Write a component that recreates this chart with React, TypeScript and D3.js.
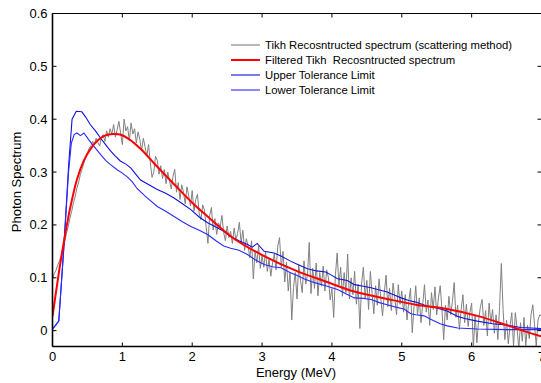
import React from "react";
import * as d3 from "d3";

// ---- data ----
const xTicks = [0, 1, 2, 3, 4, 5, 6, 7];
const yTicks = [0, 0.1, 0.2, 0.3, 0.4, 0.5, 0.6];
const yTickLabels = ["0", "0.1", "0.2", "0.3", "0.4", "0.5", "0.6"];

const legendLabels = [
  "Tikh Recosntructed spectrum (scattering method)",
  "Filtered Tikh  Recosntructed spectrum",
  "Upper Tolerance Limit",
  "Lower Tolerance Limit",
];

// noisy reconstructed spectrum, sampled every 0.025 MeV from 0 to 7
const grayStep = 0.025;
const grayValues = [
  0.098, 0.108, 0.114, 0.124, 0.132, 0.142, 0.156, 0.168, 0.184, 0.197, 0.213, 0.226, 0.242, 0.254, 0.270, 0.281, 0.296, 0.306, 0.318, 0.327,
  0.336, 0.345, 0.350, 0.358, 0.352, 0.364, 0.356, 0.349, 0.366, 0.371, 0.358, 0.378, 0.366, 0.382, 0.372, 0.390, 0.366, 0.380, 0.396, 0.374,
  0.352, 0.400, 0.378, 0.386, 0.360, 0.393, 0.372, 0.382, 0.355, 0.376, 0.362, 0.340, 0.364, 0.348, 0.330, 0.352, 0.318, 0.290, 0.300, 0.330,
  0.322, 0.296, 0.312, 0.288, 0.305, 0.278, 0.300, 0.284, 0.268, 0.292, 0.305, 0.262, 0.280, 0.248, 0.276, 0.262, 0.240, 0.272, 0.255, 0.236,
  0.265, 0.226, 0.248, 0.258, 0.222, 0.210, 0.238, 0.228, 0.196, 0.165, 0.218, 0.233, 0.190, 0.212, 0.182, 0.204, 0.196, 0.218, 0.186, 0.170,
  0.198, 0.176, 0.188, 0.165, 0.194, 0.172, 0.184, 0.205, 0.166, 0.190, 0.152, 0.174, 0.160, 0.138, 0.170, 0.098, 0.150, 0.128, 0.160, 0.118,
  0.142, 0.120, 0.150, 0.112, 0.135, 0.103, 0.128, 0.145, 0.115, 0.160, 0.176, 0.120, 0.150, 0.092, 0.130, 0.075, 0.110, 0.020, 0.082, 0.110,
  0.060, 0.125, 0.095, 0.072, 0.132, 0.088, 0.105, 0.167, 0.070, 0.118, 0.080, 0.128, 0.066, 0.110, 0.084, 0.122, 0.075, 0.115, 0.100, 0.058,
  0.080, 0.025, 0.105, 0.147, 0.085, 0.120, 0.065, 0.110, 0.072, 0.145, 0.060, 0.100, 0.068, 0.112, 0.050, 0.088, 0.004, 0.090, 0.120, 0.062,
  0.095, 0.040, 0.112, 0.070, 0.032, 0.085, 0.048, 0.098, 0.060, 0.028, 0.072, 0.105, 0.045, 0.080, 0.038, 0.090, 0.062, 0.030, 0.087, 0.050,
  0.075, 0.035, 0.068, 0.020, 0.055, 0.080, -0.004, 0.045, 0.085, 0.030, 0.062, 0.015, 0.050, 0.087, 0.035, 0.058, 0.010, 0.072, 0.040, 0.083,
  0.030, 0.062, 0.085, 0.040, -0.017, 0.048, 0.020, 0.065, 0.030, 0.055, 0.091, 0.025, 0.048, 0.002, 0.040, 0.068, 0.015, 0.050, 0.008, 0.035,
  0.052, -0.032, 0.030, -0.023, 0.020, 0.045, 0.059, 0.010, 0.038, -0.010, 0.052, 0.015, 0.040, -0.005, 0.030, -0.017, 0.046, 0.127, 0.040, -0.017,
  0.020, -0.025, 0.010, 0.034, -0.030, 0.034, 0.005, -0.035, 0.015, -0.020, 0.025, -0.028, 0.010, -0.015, 0.030, 0.049, 0.012, -0.030, 0.020, 0.030,
  0.028,
];

// filtered spectrum
const redEnergy = [0, 0.08, 0.16, 0.25, 0.35, 0.45, 0.54, 0.65, 0.75, 0.87, 0.97, 1.1, 1.26, 1.5, 1.74, 2.0, 2.22, 2.5, 2.62, 3.03, 3.51, 3.91, 4.32, 4.79, 5.2, 5.61, 6.08, 6.49, 6.75, 7.0];
const redValues = [0.027, 0.1, 0.166, 0.23, 0.286, 0.322, 0.343, 0.36, 0.369, 0.372, 0.371, 0.362, 0.344, 0.31, 0.277, 0.242, 0.216, 0.184, 0.172, 0.141, 0.112, 0.093, 0.074, 0.06, 0.049, 0.042, 0.028, 0.011, -0.001, -0.011];

// upper tolerance limit
const upperEnergy = [0, 0.09, 0.16, 0.23, 0.28, 0.34, 0.42, 0.47, 0.54, 0.62, 0.69, 0.76, 0.83, 0.9, 0.97, 1.05, 1.12, 1.18, 1.26, 1.38, 1.5, 1.62, 1.74, 1.86, 1.98, 2.1, 2.22, 2.34, 2.45, 2.55, 2.67, 2.79, 2.86, 2.93, 3.03, 3.17, 3.27, 3.4, 3.51, 3.65, 3.78, 3.91, 3.98, 4.08, 4.22, 4.32, 4.45, 4.56, 4.68, 4.79, 4.9, 4.99, 5.1, 5.2, 5.37, 5.5, 5.65, 5.8, 5.9, 6.08, 6.3, 6.49, 6.7, 7.0];
const upperValues = [0.003, 0.018, 0.153, 0.311, 0.4, 0.415, 0.414, 0.405, 0.39, 0.377, 0.364, 0.352, 0.34, 0.33, 0.321, 0.315, 0.308, 0.298, 0.285, 0.276, 0.267, 0.26, 0.251, 0.24, 0.229, 0.215, 0.204, 0.196, 0.188, 0.178, 0.17, 0.163, 0.158, 0.165, 0.15, 0.147, 0.141, 0.132, 0.125, 0.117, 0.113, 0.111, 0.106, 0.098, 0.095, 0.087, 0.084, 0.081, 0.077, 0.073, 0.067, 0.062, 0.057, 0.054, 0.046, 0.043, 0.037, 0.027, 0.023, 0.018, 0.013, 0.011, 0.006, 0.004];

// lower tolerance limit
const lowerEnergy = [0, 0.09, 0.16, 0.23, 0.27, 0.31, 0.35, 0.4, 0.45, 0.52, 0.59, 0.69, 0.76, 0.83, 0.93, 1.0, 1.07, 1.14, 1.21, 1.33, 1.5, 1.62, 1.74, 1.86, 1.98, 2.1, 2.22, 2.34, 2.45, 2.55, 2.67, 2.79, 2.9, 3.03, 3.15, 3.27, 3.4, 3.51, 3.6, 3.7, 3.8, 3.91, 4.08, 4.2, 4.32, 4.45, 4.56, 4.68, 4.79, 4.9, 5.03, 5.13, 5.2, 5.32, 5.42, 5.55, 5.65, 5.8, 6.08, 6.5, 7.0];
const lowerValues = [0.003, 0.018, 0.153, 0.3, 0.355, 0.371, 0.374, 0.369, 0.374, 0.361, 0.349, 0.333, 0.322, 0.314, 0.304, 0.298, 0.291, 0.282, 0.269, 0.254, 0.235, 0.226, 0.216, 0.206, 0.197, 0.19, 0.182, 0.17, 0.16, 0.156, 0.152, 0.144, 0.134, 0.125, 0.121, 0.119, 0.11, 0.104, 0.098, 0.093, 0.089, 0.085, 0.078, 0.07, 0.062, 0.061, 0.059, 0.053, 0.049, 0.045, 0.041, 0.032, 0.03, 0.028, 0.021, 0.013, 0.009, 0.005, 0.003, 0.002, 0.002];

const GRAY = "#808080";
const RED = "#ff0000";
const UPPER = "#1010dc";
const LOWER = "#2a2aff";
const legendColors = [GRAY, RED, UPPER, LOWER];

const FONT = "Liberation Sans, Arial, Helvetica, sans-serif";

export default function App() {
  const W = 541;
  const H = 383;
  const left = 52.5;
  const right = 541.5;
  const top = 13.5;
  const bottom = 346.5;

  const x = d3.scaleLinear().domain([0, 7]).range([left, right]);
  const y = d3.scaleLinear().domain([-0.03, 0.6]).range([bottom, top]);

  type P = [number, number];
  const line = d3
    .line<P>()
    .x((d) => x(d[0]))
    .y((d) => y(d[1]));
  const smooth = d3
    .line<P>()
    .x((d) => x(d[0]))
    .y((d) => y(d[1]))
    .curve(d3.curveCatmullRom.alpha(0.5));

  const grayPts: P[] = grayValues.map((v, i) => [i * grayStep, v]);
  const redPts: P[] = redEnergy.map((e, i) => [e, redValues[i]]);
  const upPts: P[] = upperEnergy.map((e, i) => [e, upperValues[i]]);
  const loPts: P[] = lowerEnergy.map((e, i) => [e, lowerValues[i]]);

  const tickLen = 4;

  return (
    <svg
      width={W}
      height={H}
      style={{ position: "absolute", left: 0, top: 0, background: "#fff" }}
      fontFamily={FONT}
    >
      <defs>
        <clipPath id="plotClip">
          <rect x={left} y={top} width={right - left} height={bottom - top} />
        </clipPath>
      </defs>
      <rect x={0} y={0} width={W} height={H} fill="#fff" />

      <g clipPath="url(#plotClip)" fill="none">
        <path d={line(grayPts) || ""} stroke={GRAY} strokeWidth={1} />
        <path d={line(upPts) || ""} stroke={UPPER} strokeWidth={1.1} />
        <path d={line(loPts) || ""} stroke={LOWER} strokeWidth={1.1} />
        <path d={smooth(redPts) || ""} stroke={RED} strokeWidth={2} />
      </g>

      {/* box */}
      <g stroke="#000" fill="none">
        <line x1={left} y1={top} x2={left} y2={bottom} strokeWidth={1.6} />
        <line x1={left} y1={bottom} x2={right} y2={bottom} strokeWidth={1.6} />
        <line x1={left} y1={top} x2={right} y2={top} strokeWidth={1} />
        <line x1={right} y1={top} x2={right} y2={bottom} strokeWidth={1} />
      </g>

      {/* x ticks */}
      {xTicks.map((t) => (
        <g key={"x" + t}>
          <line x1={x(t)} x2={x(t)} y1={bottom} y2={bottom - tickLen} stroke="#000" strokeWidth={1} />
          <line x1={x(t)} x2={x(t)} y1={top} y2={top + tickLen} stroke="#000" strokeWidth={1} />
          <text x={x(t)} y={bottom + 14} fontSize={13} textAnchor="middle" fill="#000">
            {t}
          </text>
        </g>
      ))}

      {/* y ticks */}
      {yTicks.map((t, i) => (
        <g key={"y" + t}>
          <line x1={left} x2={left + tickLen} y1={y(t)} y2={y(t)} stroke="#000" strokeWidth={1} />
          <line x1={right} x2={right - tickLen} y1={y(t)} y2={y(t)} stroke="#000" strokeWidth={1} />
          <text x={left - 5} y={y(t) + 4.5} fontSize={13} textAnchor="end" fill="#000">
            {yTickLabels[i]}
          </text>
        </g>
      ))}

      <text x={(left + right) / 2 - 1} y={377} fontSize={13} textAnchor="middle" fill="#000">
        Energy (MeV)
      </text>
      <text
        transform={`translate(21, ${(top + bottom) / 2 + 2}) rotate(-90)`}
        fontSize={13}
        textAnchor="middle"
        fill="#000"
      >
        Photon Spectrum
      </text>

      {/* legend */}
      {legendLabels.map((lab, i) => {
        const ly = 45 + i * 15;
        return (
          <g key={lab}>
            <line x1={231} x2={260} y1={ly} y2={ly} stroke={legendColors[i]} strokeWidth={i === 1 ? 2 : 1.1} />
            <text x={265} y={ly + 4} fontSize={11.3} fill="#000" style={{ whiteSpace: "pre" }}>
              {lab}
            </text>
          </g>
        );
      })}
    </svg>
  );
}
